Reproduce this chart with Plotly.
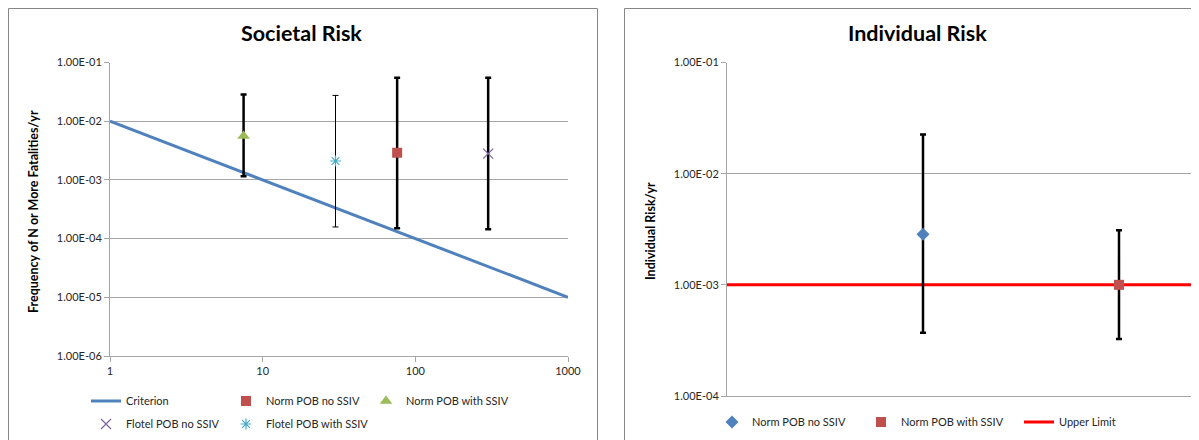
import plotly.graph_objects as go

# ---------------- Data: Societal Risk ----------------
criterion_n = [1, 1000]
criterion_f = [1e-2, 1e-5]

norm_no_ssiv_n = [76]
norm_no_ssiv_f = [2.9e-3]
norm_no_ssiv_hi = [5.5e-2]
norm_no_ssiv_lo = [1.5e-4]

norm_with_ssiv_n = [7.5]
norm_with_ssiv_f = [5.6e-3]
norm_with_ssiv_hi = [2.85e-2]
norm_with_ssiv_lo = [1.15e-3]

flotel_no_ssiv_n = [300]
flotel_no_ssiv_f = [2.8e-3]
flotel_no_ssiv_hi = [5.5e-2]
flotel_no_ssiv_lo = [1.45e-4]

flotel_with_ssiv_n = [30]
flotel_with_ssiv_f = [2.1e-3]
flotel_with_ssiv_hi = [2.75e-2]
flotel_with_ssiv_lo = [1.58e-4]

soc_y_tickvals = [1e-6, 1e-5, 1e-4, 1e-3, 1e-2, 1e-1]
soc_y_ticktext = ["1.00E-06", "1.00E-05", "1.00E-04", "1.00E-03", "1.00E-02", "1.00E-01"]
soc_x_tickvals = [1, 10, 100, 1000]
soc_x_ticktext = ["1", "10", "100", "1000"]

# ---------------- Data: Individual Risk ----------------
ind_no_ssiv_x = [1]
ind_no_ssiv_y = [2.85e-3]
ind_no_ssiv_hi = [2.25e-2]
ind_no_ssiv_lo = [3.7e-4]

ind_with_ssiv_x = [2]
ind_with_ssiv_y = [1.0e-3]
ind_with_ssiv_hi = [3.1e-3]
ind_with_ssiv_lo = [3.25e-4]

upper_limit_x = [0, 3]
upper_limit_y = [1e-3, 1e-3]

ind_y_tickvals = [1e-4, 1e-3, 1e-2, 1e-1]
ind_y_ticktext = ["1.00E-04", "1.00E-03", "1.00E-02", "1.00E-01"]

W, H = 1199, 440
OFF = 8  # page body margin
FONT = "Lato"
TXT = "#262626"
GRID = "#A6A6A6"


def px_x(p):
    return (p - OFF) / W


def px_y(p):
    return 1 - (p - OFF) / H


def err(vals, hi, lo, thick):
    return dict(type="data", symmetric=False,
                array=[h - v for h, v in zip(hi, vals)],
                arrayminus=[v - l for v, l in zip(vals, lo)],
                color="black", thickness=thick, width=3)


fig = go.Figure()

# Societal risk traces
fig.add_trace(go.Scatter(x=criterion_n, y=criterion_f, mode="lines", name="Criterion",
                         line=dict(color="#4F81BD", width=3), xaxis="x", yaxis="y",
                         legend="legend"))
fig.add_trace(go.Scatter(x=norm_no_ssiv_n, y=norm_no_ssiv_f, mode="markers", name="Norm POB no SSIV",
                         marker=dict(symbol="square", color="#C0504D", size=10),
                         error_y=err(norm_no_ssiv_f, norm_no_ssiv_hi, norm_no_ssiv_lo, 2.5),
                         xaxis="x", yaxis="y", legend="legend2"))
fig.add_trace(go.Scatter(x=norm_with_ssiv_n, y=norm_with_ssiv_f, mode="markers", name="Norm POB with SSIV",
                         marker=dict(symbol="triangle-up", color="#9BBB59", size=11),
                         error_y=err(norm_with_ssiv_f, norm_with_ssiv_hi, norm_with_ssiv_lo, 2.5),
                         xaxis="x", yaxis="y", legend="legend3"))
fig.add_trace(go.Scatter(x=flotel_no_ssiv_n, y=flotel_no_ssiv_f, mode="markers", name="Flotel POB no SSIV",
                         marker=dict(symbol="x-thin-open", color="#8064A2", size=10,
                                     line=dict(color="#8064A2", width=1.2)),
                         error_y=err(flotel_no_ssiv_f, flotel_no_ssiv_hi, flotel_no_ssiv_lo, 2.5),
                         xaxis="x", yaxis="y", legend="legend4"))
fig.add_trace(go.Scatter(x=flotel_with_ssiv_n, y=flotel_with_ssiv_f, mode="markers", name="Flotel POB with SSIV",
                         marker=dict(symbol="asterisk-open", color="#4BACC6", size=9,
                                     line=dict(color="#4BACC6", width=1.2)),
                         error_y=err(flotel_with_ssiv_f, flotel_with_ssiv_hi, flotel_with_ssiv_lo, 1),
                         xaxis="x", yaxis="y", legend="legend5"))

# Individual risk traces (limit line drawn first so markers sit on top)
fig.add_trace(go.Scatter(x=upper_limit_x, y=upper_limit_y, mode="lines", name="Upper Limit",
                         line=dict(color="#FF0000", width=3), xaxis="x2", yaxis="y2",
                         legend="legend8"))
fig.add_trace(go.Scatter(x=ind_no_ssiv_x, y=ind_no_ssiv_y, mode="markers", name="Norm POB no SSIV",
                         marker=dict(symbol="diamond", color="#4F81BD", size=10),
                         error_y=err(ind_no_ssiv_y, ind_no_ssiv_hi, ind_no_ssiv_lo, 2.5),
                         xaxis="x2", yaxis="y2", legend="legend6"))
fig.add_trace(go.Scatter(x=ind_with_ssiv_x, y=ind_with_ssiv_y, mode="markers", name="Norm POB with SSIV",
                         marker=dict(symbol="square", color="#C0504D", size=10),
                         error_y=err(ind_with_ssiv_y, ind_with_ssiv_hi, ind_with_ssiv_lo, 2.5),
                         xaxis="x2", yaxis="y2", legend="legend7"))

axis_common = dict(showline=True, linecolor=GRID, linewidth=1, ticks="outside", ticklen=5,
                   tickcolor=GRID, tickfont=dict(family=FONT, size=11, color=TXT),
                   zeroline=False, automargin=False)


def leg(center_x, center_y):
    # legend symbol centre sits ~19px right of the legend's left edge
    return dict(orientation="h", xanchor="left", yanchor="middle", bgcolor="rgba(0,0,0,0)",
                font=dict(family=FONT, size=11, color=TXT), itemwidth=30,
                x=px_x(center_x - 21), y=px_y(center_y))


fig.update_layout(
    width=W, height=H,
    margin=dict(l=0, r=0, t=0, b=0, pad=0, autoexpand=False),
    paper_bgcolor="white", plot_bgcolor="white",
    font=dict(family=FONT, color=TXT),
    showlegend=True,
    xaxis=dict(type="log", range=[0, 3], domain=[px_x(110), px_x(568)], anchor="y",
               tickvals=soc_x_tickvals, ticktext=soc_x_ticktext, showgrid=False,
               **axis_common),
    yaxis=dict(type="log", range=[-6, -1], domain=[px_y(356), px_y(62.5)], anchor="x",
               tickvals=soc_y_tickvals, ticktext=soc_y_ticktext, showgrid=True,
               gridcolor=GRID, gridwidth=1, **axis_common),
    xaxis2=dict(range=[0, (W + OFF - 727) / 196], domain=[px_x(727), 1.0], anchor="y2",
                showticklabels=False, showgrid=False, showline=True, linecolor=GRID,
                linewidth=1, ticks="", zeroline=False, automargin=False),
    yaxis2=dict(type="log", range=[-4, -1], domain=[px_y(396), px_y(62.5)], anchor="x2",
                tickvals=ind_y_tickvals, ticktext=ind_y_ticktext, showgrid=True,
                gridcolor=GRID, gridwidth=1, **axis_common),
    legend=leg(107, 401),
    legend2=leg(247, 401),
    legend3=leg(387, 401),
    legend4=leg(107, 424),
    legend5=leg(247, 424),
    legend6=leg(733, 422),
    legend7=leg(882, 422),
    legend8=leg(1040, 422),
    shapes=[
        dict(type="rect", xref="paper", yref="paper", x0=px_x(8.5), x1=px_x(597.5),
             y0=-0.05, y1=px_y(8.5), line=dict(color="#868686", width=1), layer="below"),
        dict(type="rect", xref="paper", yref="paper", x0=px_x(624.5), x1=1.05,
             y0=-0.05, y1=px_y(8.5), line=dict(color="#868686", width=1), layer="below"),
    ],
    annotations=[
        dict(text="<b>Societal Risk</b>", x=px_x(301), y=px_y(33), xref="paper", yref="paper",
             showarrow=False, xanchor="center", yanchor="middle",
             font=dict(family=FONT, size=21.5, color="black")),
        dict(text="<b>Individual Risk</b>", x=px_x(917), y=px_y(33), xref="paper", yref="paper",
             showarrow=False, xanchor="center", yanchor="middle",
             font=dict(family=FONT, size=21.5, color="black")),
        dict(text="<b>Frequency of N or More Fatalities/yr</b>", x=px_x(33), y=px_y(212),
             xref="paper", yref="paper", showarrow=False, textangle=-90,
             xanchor="center", yanchor="middle", font=dict(family=FONT, size=12.5, color="black")),
        dict(text="<b>Individual Risk/yr</b>", x=px_x(650), y=px_y(231),
             xref="paper", yref="paper", showarrow=False, textangle=-90,
             xanchor="center", yanchor="middle", font=dict(family=FONT, size=12.5, color="black")),
    ],
)

fig.write_html("out.html")
